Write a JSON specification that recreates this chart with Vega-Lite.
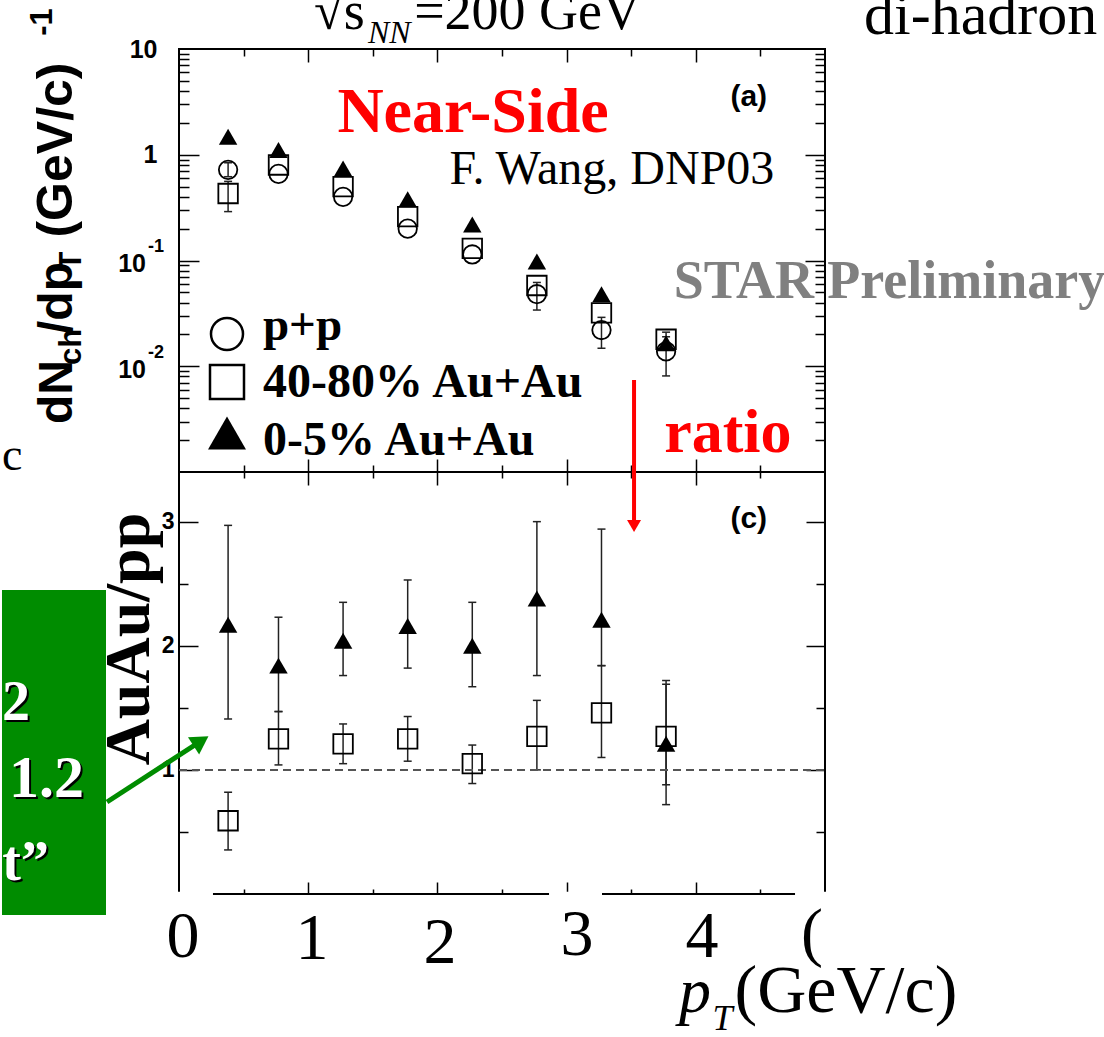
{
  "$schema": "https://vega.github.io/schema/vega-lite/v6.json",
  "background": "white",
  "padding": {"left": 0, "top": -16, "right": 0, "bottom": 0},
  "config": {"view": {"stroke": "black", "strokeWidth": 2}},
  "datasets": {
    "top": [
      {"pt": 0.38, "s": "pp", "v": 0.72, "lo": 0.62, "hi": 0.84},
      {"pt": 0.38, "s": "4080", "v": 0.43, "lo": 0.29, "hi": 0.56},
      {"pt": 0.38, "s": "05", "v": 1.48, "lo": null, "hi": null},
      {"pt": 0.77, "s": "pp", "v": 0.66, "lo": null, "hi": null},
      {"pt": 0.77, "s": "4080", "v": 0.80, "lo": null, "hi": null},
      {"pt": 0.77, "s": "05", "v": 1.11, "lo": null, "hi": null},
      {"pt": 1.27, "s": "pp", "v": 0.40, "lo": null, "hi": null},
      {"pt": 1.27, "s": "4080", "v": 0.50, "lo": null, "hi": null},
      {"pt": 1.27, "s": "05", "v": 0.74, "lo": null, "hi": null},
      {"pt": 1.77, "s": "pp", "v": 0.20, "lo": null, "hi": null},
      {"pt": 1.77, "s": "4080", "v": 0.26, "lo": null, "hi": null},
      {"pt": 1.77, "s": "05", "v": 0.38, "lo": null, "hi": null},
      {"pt": 2.27, "s": "pp", "v": 0.114, "lo": null, "hi": null},
      {"pt": 2.27, "s": "4080", "v": 0.13, "lo": null, "hi": null},
      {"pt": 2.27, "s": "05", "v": 0.219, "lo": null, "hi": null},
      {"pt": 2.77, "s": "pp", "v": 0.048, "lo": 0.034, "hi": 0.062},
      {"pt": 2.77, "s": "4080", "v": 0.058, "lo": null, "hi": null},
      {"pt": 2.77, "s": "05", "v": 0.098, "lo": null, "hi": null},
      {"pt": 3.27, "s": "pp", "v": 0.022, "lo": 0.0148, "hi": 0.029},
      {"pt": 3.27, "s": "4080", "v": 0.032, "lo": null, "hi": null},
      {"pt": 3.27, "s": "05", "v": 0.048, "lo": null, "hi": null},
      {"pt": 3.77, "s": "pp", "v": 0.0138, "lo": 0.0081, "hi": 0.019},
      {"pt": 3.77, "s": "4080", "v": 0.018, "lo": 0.015, "hi": 0.021},
      {"pt": 3.77, "s": "05", "v": 0.0165, "lo": null, "hi": null}
    ],
    "ratio": [
      {"pt": 0.38, "s": "05", "v": 2.17, "lo": 1.41, "hi": 2.97},
      {"pt": 0.77, "s": "05", "v": 1.84, "lo": 1.47, "hi": 2.23},
      {"pt": 1.27, "s": "05", "v": 2.04, "lo": 1.76, "hi": 2.35},
      {"pt": 1.77, "s": "05", "v": 2.16, "lo": 1.82, "hi": 2.53},
      {"pt": 2.27, "s": "05", "v": 2.00, "lo": 1.67, "hi": 2.35},
      {"pt": 2.77, "s": "05", "v": 2.38, "lo": 1.76, "hi": 3.00},
      {"pt": 3.27, "s": "05", "v": 2.21, "lo": 1.84, "hi": 2.94},
      {"pt": 3.77, "s": "05", "v": 1.21, "lo": 0.72, "hi": 1.72},
      {"pt": 0.38, "s": "4080", "v": 0.59, "lo": 0.355, "hi": 0.82},
      {"pt": 0.77, "s": "4080", "v": 1.25, "lo": 1.04, "hi": 1.47},
      {"pt": 1.27, "s": "4080", "v": 1.21, "lo": 1.05, "hi": 1.37},
      {"pt": 1.77, "s": "4080", "v": 1.25, "lo": 1.07, "hi": 1.43},
      {"pt": 2.27, "s": "4080", "v": 1.05, "lo": 0.89, "hi": 1.20},
      {"pt": 2.77, "s": "4080", "v": 1.27, "lo": 1.00, "hi": 1.56},
      {"pt": 3.27, "s": "4080", "v": 1.46, "lo": 1.10, "hi": 1.84},
      {"pt": 3.77, "s": "4080", "v": 1.27, "lo": 0.88, "hi": 1.69}
    ]
  },
  "spacing": 0,
  "bounds": "flush",
  "vconcat": [
    {
      "width": 646,
      "height": 423,
      "resolve": {"axis": {"x": "independent", "y": "independent"}},
      "layer": [
        {
          "data": {"name": "top"},
          "transform": [{"filter": "isValid(datum.lo)"}],
          "mark": {"type": "rule", "color": "#222", "strokeWidth": 1.5},
          "encoding": {
            "x": {"field": "pt", "type": "quantitative", "scale": {"domain": [0, 5], "nice": false, "zero": false},
              "axis": {"orient": "bottom", "values": [0.5,1,1.5,2,2.5,3,3.5,4,4.5], "labels": false, "domain": false, "grid": false, "title": null, "tickColor": "black", "tickWidth": 1.5, "tickSize": {"condition": {"test": "datum.value % 1 === 0", "value": -13}, "value": -7}}},
            "y": {"field": "lo", "type": "quantitative", "scale": {"type": "log", "domain": [0.001, 10], "nice": false},
              "axis": {"orient": "left", "values": [0.002,0.003,0.004,0.005,0.006,0.007,0.008,0.009,0.01,0.02,0.03,0.04,0.05,0.06,0.07,0.08,0.09,0.1,0.2,0.3,0.4,0.5,0.6,0.7,0.8,0.9,1,2,3,4,5,6,7,8,9], "labels": false, "domain": false, "grid": false, "title": null, "tickColor": "black", "tickWidth": 1.5, "tickSize": {"condition": {"test": "abs(log(datum.value)/LN10 - round(log(datum.value)/LN10)) < 0.001", "value": -20}, "value": -10}}},
            "y2": {"field": "hi"}
          }
        },
        {
          "data": {"name": "top"},
          "transform": [{"filter": "isValid(datum.lo)"}],
          "mark": {"type": "tick", "orient": "horizontal", "color": "#222", "opacity": 1, "size": 8, "thickness": 1.5},
          "encoding": {
            "x": {"field": "pt", "type": "quantitative",
              "axis": {"orient": "top", "values": [0.5,1,1.5,2,2.5,3,3.5,4,4.5], "labels": false, "domain": false, "grid": false, "title": null, "tickColor": "black", "tickWidth": 1.5, "tickSize": {"condition": {"test": "datum.value % 1 === 0", "value": -13}, "value": -7}}},
            "y": {"field": "lo", "type": "quantitative",
              "axis": {"orient": "right", "values": [0.002,0.003,0.004,0.005,0.006,0.007,0.008,0.009,0.01,0.02,0.03,0.04,0.05,0.06,0.07,0.08,0.09,0.1,0.2,0.3,0.4,0.5,0.6,0.7,0.8,0.9,1,2,3,4,5,6,7,8,9], "labels": false, "domain": false, "grid": false, "title": null, "tickColor": "black", "tickWidth": 1.5, "tickSize": {"condition": {"test": "abs(log(datum.value)/LN10 - round(log(datum.value)/LN10)) < 0.001", "value": -20}, "value": -10}}}
          }
        },
        {
          "data": {"name": "top"},
          "transform": [{"filter": "isValid(datum.hi)"}],
          "mark": {"type": "tick", "orient": "horizontal", "color": "#222", "opacity": 1, "size": 8, "thickness": 1.5},
          "encoding": {
            "x": {"field": "pt", "type": "quantitative", "axis": null},
            "y": {"field": "hi", "type": "quantitative",
              "axis": {"orient": "left", "values": [1, 10], "ticks": false, "tickSize": 0, "domain": false, "grid": false, "title": null, "labelPadding": 22, "labelFont": "Liberation Sans", "labelFontWeight": "bold", "labelFontSize": 25, "labelColor": "black", "labelFlush": false, "labelOverlap": false, "labelExpr": "datum.value >= 5 ? '10' : '1'"}}
          }
        },
        {
          "data": {"name": "top"},
          "transform": [{"filter": "datum.s === 'pp'"}],
          "mark": {"type": "point", "shape": "circle", "filled": false, "color": "black", "opacity": 1, "strokeWidth": 1.8, "size": 340},
          "encoding": {"x": {"field": "pt", "type": "quantitative", "axis": null}, "y": {"field": "v", "type": "quantitative", "axis": null}}
        },
        {
          "data": {"name": "top"},
          "transform": [{"filter": "datum.s === '4080'"}],
          "mark": {"type": "point", "shape": "square", "filled": false, "color": "black", "opacity": 1, "strokeWidth": 1.8, "size": 380},
          "encoding": {"x": {"field": "pt", "type": "quantitative", "axis": null}, "y": {"field": "v", "type": "quantitative", "axis": null}}
        },
        {
          "data": {"name": "top"},
          "transform": [{"filter": "datum.s === '05'"}],
          "mark": {"type": "point", "shape": "triangle-up", "filled": true, "color": "black", "opacity": 1, "size": 340},
          "encoding": {"x": {"field": "pt", "type": "quantitative", "axis": null}, "y": {"field": "v", "type": "quantitative", "axis": null}}
        },
        {
          "data": {"values": [{}]},
          "mark": {"type": "text", "text": "10", "font": "Liberation Sans", "fontWeight": "bold", "fontSize": 25, "color": "black", "align": "right", "baseline": "middle"},
          "encoding": {"x": {"datum": -0.2554, "type": "quantitative", "axis": null}, "y": {"datum": 0.0927, "type": "quantitative", "axis": null}}
        },
        {
          "data": {"values": [{}]},
          "mark": {"type": "text", "text": "-1", "font": "Liberation Sans", "fontWeight": "bold", "fontSize": 18, "color": "black", "align": "left", "baseline": "middle"},
          "encoding": {"x": {"datum": -0.2399, "type": "quantitative", "axis": null}, "y": {"datum": 0.1342, "type": "quantitative", "axis": null}}
        },
        {
          "data": {"values": [{}]},
          "mark": {"type": "text", "text": "10", "font": "Liberation Sans", "fontWeight": "bold", "fontSize": 25, "color": "black", "align": "right", "baseline": "middle"},
          "encoding": {"x": {"datum": -0.2554, "type": "quantitative", "axis": null}, "y": {"datum": 0.00922, "type": "quantitative", "axis": null}}
        },
        {
          "data": {"values": [{}]},
          "mark": {"type": "text", "text": "-2", "font": "Liberation Sans", "fontWeight": "bold", "fontSize": 18, "color": "black", "align": "left", "baseline": "middle"},
          "encoding": {"x": {"datum": -0.2399, "type": "quantitative", "axis": null}, "y": {"datum": 0.01334, "type": "quantitative", "axis": null}}
        },
        {
          "data": {"values": [{}]},
          "mark": {"type": "text", "text": "(a)", "font": "Liberation Sans", "fontWeight": "bold", "fontSize": 30, "color": "black", "align": "center", "baseline": "middle"},
          "encoding": {"x": {"datum": 4.41, "type": "quantitative", "axis": null}, "y": {"datum": 3.517, "type": "quantitative", "axis": null}}
        },
        {
          "data": {"values": [{}]},
          "mark": {"type": "text", "text": "Near-Side", "font": "Liberation Serif", "fontWeight": "bold", "fontSize": 64, "color": "#ff0000", "align": "center", "baseline": "alphabetic"},
          "encoding": {"x": {"datum": 2.276, "type": "quantitative", "axis": null}, "y": {"datum": 1.641, "type": "quantitative", "axis": null}}
        },
        {
          "data": {"values": [{}]},
          "mark": {"type": "text", "text": "F. Wang, DNP03", "font": "Liberation Serif", "fontSize": 48, "color": "black", "align": "center", "baseline": "alphabetic"},
          "encoding": {"x": {"datum": 3.351, "type": "quantitative", "axis": null}, "y": {"datum": 0.529, "type": "quantitative", "axis": null}}
        },
        {
          "data": {"values": [{}]},
          "mark": {"type": "text", "text": "STAR Preliminary", "font": "Liberation Serif", "fontWeight": "bold", "fontSize": 54, "color": "#808080", "align": "left", "baseline": "alphabetic"},
          "encoding": {"x": {"datum": 3.83, "type": "quantitative", "axis": null}, "y": {"datum": 0.04418, "type": "quantitative", "axis": null}}
        },
        {
          "data": {"values": [{}]},
          "mark": {"type": "point", "shape": "circle", "filled": false, "color": "black", "opacity": 1, "strokeWidth": 2.5, "size": 1024},
          "encoding": {"x": {"datum": 0.3715, "type": "quantitative", "axis": null}, "y": {"datum": 0.02018, "type": "quantitative", "axis": null}}
        },
        {
          "data": {"values": [{}]},
          "mark": {"type": "point", "shape": "square", "filled": false, "color": "black", "opacity": 1, "strokeWidth": 2.5, "size": 1156},
          "encoding": {"x": {"datum": 0.3715, "type": "quantitative", "axis": null}, "y": {"datum": 0.007096, "type": "quantitative", "axis": null}}
        },
        {
          "data": {"values": [{}]},
          "mark": {"type": "point", "shape": "triangle-up", "filled": true, "color": "black", "opacity": 1, "size": 1444},
          "encoding": {"x": {"datum": 0.3715, "type": "quantitative", "axis": null}, "y": {"datum": 0.002338, "type": "quantitative", "axis": null}}
        },
        {
          "data": {"values": [{}]},
          "mark": {"type": "text", "text": "p+p", "font": "Liberation Serif", "fontWeight": "bold", "fontSize": 47, "color": "black", "align": "left", "baseline": "alphabetic"},
          "encoding": {"x": {"datum": 0.65, "type": "quantitative", "axis": null}, "y": {"datum": 0.01771, "type": "quantitative", "axis": null}}
        },
        {
          "data": {"values": [{}]},
          "mark": {"type": "text", "text": "40-80% Au+Au", "font": "Liberation Serif", "fontWeight": "bold", "fontSize": 48, "color": "black", "align": "left", "baseline": "alphabetic"},
          "encoding": {"x": {"datum": 0.65, "type": "quantitative", "axis": null}, "y": {"datum": 0.00512, "type": "quantitative", "axis": null}}
        },
        {
          "data": {"values": [{}]},
          "mark": {"type": "text", "text": "0-5% Au+Au", "font": "Liberation Serif", "fontWeight": "bold", "fontSize": 48, "color": "black", "align": "left", "baseline": "alphabetic"},
          "encoding": {"x": {"datum": 0.65, "type": "quantitative", "axis": null}, "y": {"datum": 0.001448, "type": "quantitative", "axis": null}}
        },
        {
          "data": {"values": [{}]},
          "mark": {"type": "text", "text": "ratio", "font": "Liberation Serif", "fontWeight": "bold", "fontSize": 62, "color": "#ff0000", "align": "left", "baseline": "alphabetic"},
          "encoding": {"x": {"datum": 3.755, "type": "quantitative", "axis": null}, "y": {"datum": 0.001546, "type": "quantitative", "axis": null}}
        },
        {
          "data": {"values": [{}]},
          "mark": {"type": "text", "text": "c", "font": "Liberation Serif", "fontSize": 46, "color": "black", "align": "left", "baseline": "alphabetic"},
          "encoding": {"x": {"datum": -1.37, "type": "quantitative", "axis": null}, "y": {"datum": 0.001045, "type": "quantitative", "axis": null}}
        },
        {
          "data": {"values": [{}]},
          "mark": {"type": "text", "text": "√s", "font": "Liberation Serif", "fontSize": 54, "color": "black", "align": "left", "baseline": "alphabetic"},
          "encoding": {"x": {"datum": 1.045, "type": "quantitative", "axis": null}, "y": {"datum": 15.46, "type": "quantitative", "axis": null}}
        },
        {
          "data": {"values": [{}]},
          "mark": {"type": "text", "text": "NN", "font": "Liberation Serif", "fontStyle": "italic", "fontSize": 32, "color": "black", "align": "left", "baseline": "alphabetic"},
          "encoding": {"x": {"datum": 1.463, "type": "quantitative", "axis": null}, "y": {"datum": 11.4, "type": "quantitative", "axis": null}}
        },
        {
          "data": {"values": [{}]},
          "mark": {"type": "text", "text": "=200 GeV", "font": "Liberation Serif", "fontSize": 54, "color": "black", "align": "left", "baseline": "alphabetic"},
          "encoding": {"x": {"datum": 1.82, "type": "quantitative", "axis": null}, "y": {"datum": 15.46, "type": "quantitative", "axis": null}}
        },
        {
          "data": {"values": [{}]},
          "mark": {"type": "text", "text": "di-hadron", "font": "Liberation Serif", "fontSize": 60, "color": "black", "align": "left", "baseline": "alphabetic"},
          "encoding": {"x": {"datum": 5.302, "type": "quantitative", "axis": null}, "y": {"datum": 13.86, "type": "quantitative", "axis": null}}
        },
        {
          "data": {"values": [{}]},
          "mark": {"type": "text", "text": "dN", "font": "Liberation Sans", "fontWeight": "bold", "fontSize": 48, "color": "black", "align": "center", "baseline": "alphabetic", "angle": 270},
          "encoding": {"x": {"datum": -0.828, "type": "quantitative", "axis": null}, "y": {"datum": 0.005708, "type": "quantitative", "axis": null}}
        },
        {
          "data": {"values": [{}]},
          "mark": {"type": "text", "text": "ch", "font": "Liberation Sans", "fontWeight": "bold", "fontSize": 31, "color": "black", "align": "center", "baseline": "alphabetic", "angle": 270},
          "encoding": {"x": {"datum": -0.762, "type": "quantitative", "axis": null}, "y": {"datum": 0.01521, "type": "quantitative", "axis": null}}
        },
        {
          "data": {"values": [{}]},
          "mark": {"type": "text", "text": "/dp", "font": "Liberation Sans", "fontWeight": "bold", "fontSize": 48, "color": "black", "align": "center", "baseline": "alphabetic", "angle": 270},
          "encoding": {"x": {"datum": -0.828, "type": "quantitative", "axis": null}, "y": {"datum": 0.04418, "type": "quantitative", "axis": null}}
        },
        {
          "data": {"values": [{}]},
          "mark": {"type": "text", "text": "T", "font": "Liberation Sans", "fontWeight": "bold", "fontSize": 31, "color": "black", "align": "center", "baseline": "alphabetic", "angle": 270},
          "encoding": {"x": {"datum": -0.762, "type": "quantitative", "axis": null}, "y": {"datum": 0.0989, "type": "quantitative", "axis": null}}
        },
        {
          "data": {"values": [{}]},
          "mark": {"type": "text", "text": "(GeV/c)", "font": "Liberation Sans", "fontWeight": "bold", "fontSize": 50, "color": "black", "align": "center", "baseline": "alphabetic", "angle": 270},
          "encoding": {"x": {"datum": -0.828, "type": "quantitative", "axis": null}, "y": {"datum": 1.109, "type": "quantitative", "axis": null}}
        },
        {
          "data": {"values": [{}]},
          "mark": {"type": "text", "text": "-1", "font": "Liberation Sans", "fontWeight": "bold", "fontSize": 31, "color": "black", "align": "center", "baseline": "alphabetic", "angle": 270},
          "encoding": {"x": {"datum": -0.983, "type": "quantitative", "axis": null}, "y": {"datum": 18.0, "type": "quantitative", "axis": null}}
        }
      ]
    },
    {
      "width": 646,
      "height": 422,
      "resolve": {"axis": {"x": "independent", "y": "independent"}},
      "layer": [
        {
          "data": {"name": "ratio"},
          "mark": {"type": "rule", "color": "#222", "strokeWidth": 1.5},
          "encoding": {
            "x": {"field": "pt", "type": "quantitative", "scale": {"domain": [0, 5], "nice": false, "zero": false},
              "axis": {"orient": "bottom", "values": [0.5,1,1.5,2,2.5,3,3.5,4,4.5], "labels": false, "domain": false, "grid": false, "title": null, "tickColor": "black", "tickWidth": 1.5, "tickSize": {"condition": {"test": "datum.value % 1 === 0", "value": -12}, "value": -5}}},
            "y": {"field": "lo", "type": "quantitative", "scale": {"domain": [0, 3.4], "nice": false, "zero": false},
              "axis": {"orient": "left", "values": [0.5,1,1.5,2,2.5,3], "labels": false, "domain": false, "grid": false, "title": null, "tickColor": "black", "tickWidth": 1.5, "tickSize": {"condition": {"test": "datum.value % 1 === 0", "value": -19}, "value": -9}}},
            "y2": {"field": "hi"}
          }
        },
        {
          "data": {"name": "ratio"},
          "mark": {"type": "tick", "orient": "horizontal", "color": "#222", "opacity": 1, "size": 8, "thickness": 1.5},
          "encoding": {
            "x": {"field": "pt", "type": "quantitative",
              "axis": {"orient": "top", "values": [0.5,1,1.5,2,2.5,3,3.5,4,4.5], "labels": false, "domain": false, "grid": false, "title": null, "tickColor": "black", "tickWidth": 1.5, "tickSize": {"condition": {"test": "datum.value % 1 === 0", "value": -13}, "value": -6}}},
            "y": {"field": "lo", "type": "quantitative",
              "axis": {"orient": "right", "values": [0.5,1,1.5,2,2.5,3], "labels": false, "domain": false, "grid": false, "title": null, "tickColor": "black", "tickWidth": 1.5, "tickSize": {"condition": {"test": "datum.value % 1 === 0", "value": -19}, "value": -9}}}
          }
        },
        {
          "data": {"name": "ratio"},
          "mark": {"type": "tick", "orient": "horizontal", "color": "#222", "opacity": 1, "size": 8, "thickness": 1.5},
          "encoding": {
            "x": {"field": "pt", "type": "quantitative", "axis": null},
            "y": {"field": "hi", "type": "quantitative",
              "axis": {"orient": "left", "values": [1, 2, 3], "ticks": false, "tickSize": 0, "domain": false, "grid": false, "title": null, "labelPadding": 5, "labelFont": "Liberation Sans", "labelFontWeight": "bold", "labelFontSize": 23, "labelColor": "black", "labelFlush": false, "labelOverlap": false}}
          }
        },
        {
          "data": {"values": [{}]},
          "mark": {"type": "rule", "color": "#555", "strokeWidth": 2, "strokeDash": [8, 5]},
          "encoding": {"x": {"datum": 0, "type": "quantitative", "axis": null}, "x2": {"datum": 5}, "y": {"datum": 1, "type": "quantitative", "axis": null}}
        },
        {
          "data": {"name": "ratio"},
          "transform": [{"filter": "datum.s === '4080'"}],
          "mark": {"type": "point", "shape": "square", "filled": false, "color": "black", "opacity": 1, "strokeWidth": 1.8, "size": 380},
          "encoding": {"x": {"field": "pt", "type": "quantitative", "axis": null}, "y": {"field": "v", "type": "quantitative", "axis": null}}
        },
        {
          "data": {"name": "ratio"},
          "transform": [{"filter": "datum.s === '05'"}],
          "mark": {"type": "point", "shape": "triangle-up", "filled": true, "color": "black", "opacity": 1, "size": 340},
          "encoding": {"x": {"field": "pt", "type": "quantitative", "axis": null}, "y": {"field": "v", "type": "quantitative", "axis": null}}
        },
        {
          "data": {"values": [{}]},
          "mark": {"type": "text", "text": "(c)", "font": "Liberation Sans", "fontWeight": "bold", "fontSize": 30, "color": "black", "align": "center", "baseline": "middle"},
          "encoding": {"x": {"datum": 4.41, "type": "quantitative", "axis": null}, "y": {"datum": 3.021, "type": "quantitative", "axis": null}}
        },
        {
          "data": {"values": [{}]},
          "mark": {"type": "text", "text": "AuAu/pp", "font": "Liberation Serif", "fontWeight": "bold", "fontSize": 64, "color": "black", "align": "center", "baseline": "alphabetic", "angle": 270},
          "encoding": {"x": {"datum": -0.232, "type": "quantitative", "axis": null}, "y": {"datum": 2.054, "type": "quantitative", "axis": null}}
        },
        {
          "data": {"values": [{}]},
          "mark": {"type": "rect", "color": "#008c00", "opacity": 1},
          "encoding": {"x": {"datum": -1.37, "type": "quantitative", "axis": null}, "x2": {"datum": -0.565}, "y": {"datum": 2.449, "type": "quantitative", "axis": null}, "y2": {"datum": -0.1692}}
        },
        {
          "data": {"values": [{}]},
          "mark": {"type": "rect", "color": "white", "opacity": 1},
          "encoding": {"x": {"datum": -0.1, "type": "quantitative", "axis": null}, "x2": {"datum": 0.263}, "y": {"datum": 0.018, "type": "quantitative", "axis": null}, "y2": {"datum": -0.6}}
        },
        {
          "data": {"values": [{}]},
          "mark": {"type": "rect", "color": "white", "opacity": 1},
          "encoding": {"x": {"datum": 2.864, "type": "quantitative", "axis": null}, "x2": {"datum": 3.274}, "y": {"datum": 0.018, "type": "quantitative", "axis": null}, "y2": {"datum": -0.6}}
        },
        {
          "data": {"values": [{}]},
          "mark": {"type": "rect", "color": "white", "opacity": 1},
          "encoding": {"x": {"datum": 4.768, "type": "quantitative", "axis": null}, "x2": {"datum": 5.03}, "y": {"datum": 0.018, "type": "quantitative", "axis": null}, "y2": {"datum": -0.6}}
        },
        {
          "data": {"values": [{}]},
          "mark": {"type": "text", "text": "2", "font": "Liberation Serif", "fontWeight": "bold", "fontSize": 56, "color": "black", "align": "right", "baseline": "alphabetic", "dx": 2, "dy": 2},
          "encoding": {"x": {"datum": -1.153, "type": "quantitative", "axis": null}, "y": {"datum": 1.402, "type": "quantitative", "axis": null}}
        },
        {
          "data": {"values": [{}]},
          "mark": {"type": "text", "text": "2", "font": "Liberation Serif", "fontWeight": "bold", "fontSize": 56, "color": "white", "align": "right", "baseline": "alphabetic"},
          "encoding": {"x": {"datum": -1.153, "type": "quantitative", "axis": null}, "y": {"datum": 1.402, "type": "quantitative", "axis": null}}
        },
        {
          "data": {"values": [{}]},
          "mark": {"type": "text", "text": "1.2", "font": "Liberation Serif", "fontWeight": "bold", "fontSize": 60, "color": "black", "align": "right", "baseline": "alphabetic", "dx": 2, "dy": 2},
          "encoding": {"x": {"datum": -0.7353, "type": "quantitative", "axis": null}, "y": {"datum": 0.7815, "type": "quantitative", "axis": null}}
        },
        {
          "data": {"values": [{}]},
          "mark": {"type": "text", "text": "1.2", "font": "Liberation Serif", "fontWeight": "bold", "fontSize": 60, "color": "white", "align": "right", "baseline": "alphabetic"},
          "encoding": {"x": {"datum": -0.7353, "type": "quantitative", "axis": null}, "y": {"datum": 0.7815, "type": "quantitative", "axis": null}}
        },
        {
          "data": {"values": [{}]},
          "mark": {"type": "text", "text": "t”", "font": "Liberation Serif", "fontWeight": "bold", "fontSize": 56, "color": "black", "align": "right", "baseline": "alphabetic", "dx": 2, "dy": 2},
          "encoding": {"x": {"datum": -1.006, "type": "quantitative", "axis": null}, "y": {"datum": 0.1128, "type": "quantitative", "axis": null}}
        },
        {
          "data": {"values": [{}]},
          "mark": {"type": "text", "text": "t”", "font": "Liberation Serif", "fontWeight": "bold", "fontSize": 56, "color": "white", "align": "right", "baseline": "alphabetic"},
          "encoding": {"x": {"datum": -1.006, "type": "quantitative", "axis": null}, "y": {"datum": 0.1128, "type": "quantitative", "axis": null}}
        },
        {
          "data": {"values": [{}]},
          "mark": {"type": "rule", "color": "#008c00", "strokeWidth": 5},
          "encoding": {"x": {"datum": -0.5573, "type": "quantitative", "axis": null}, "y": {"datum": 0.7412, "type": "quantitative", "axis": null}, "x2": {"datum": 0.1703}, "y2": {"datum": 1.2327}}
        },
        {
          "data": {"values": [{}]},
          "mark": {"type": "point", "shape": "triangle-up", "filled": true, "color": "#008c00", "opacity": 1, "size": 420, "angle": 57},
          "encoding": {"x": {"datum": 0.1703, "type": "quantitative", "axis": null}, "y": {"datum": 1.2327, "type": "quantitative", "axis": null}}
        },
        {
          "data": {"values": [{}]},
          "mark": {"type": "rule", "color": "#ff0000", "strokeWidth": 4},
          "encoding": {"x": {"datum": 3.522, "type": "quantitative", "axis": null}, "y": {"datum": 4.141, "type": "quantitative", "axis": null}, "y2": {"datum": 3.0}}
        },
        {
          "data": {"values": [{}]},
          "mark": {"type": "point", "shape": "triangle-down", "filled": true, "color": "#ff0000", "opacity": 1, "size": 196},
          "encoding": {"x": {"datum": 3.522, "type": "quantitative", "axis": null}, "y": {"datum": 2.965, "type": "quantitative", "axis": null}}
        },
        {
          "data": {"values": [{}]},
          "mark": {"type": "text", "text": "0", "font": "Liberation Serif", "fontSize": 66, "color": "black", "align": "center", "baseline": "alphabetic"},
          "encoding": {"x": {"datum": 0.031, "type": "quantitative", "axis": null}, "y": {"datum": -0.5076, "type": "quantitative", "axis": null}}
        },
        {
          "data": {"values": [{}]},
          "mark": {"type": "text", "text": "1", "font": "Liberation Serif", "fontSize": 66, "color": "black", "align": "center", "baseline": "alphabetic"},
          "encoding": {"x": {"datum": 1.029, "type": "quantitative", "axis": null}, "y": {"datum": -0.5237, "type": "quantitative", "axis": null}}
        },
        {
          "data": {"values": [{}]},
          "mark": {"type": "text", "text": "2", "font": "Liberation Serif", "fontSize": 66, "color": "black", "align": "center", "baseline": "alphabetic"},
          "encoding": {"x": {"datum": 2.02, "type": "quantitative", "axis": null}, "y": {"datum": -0.5559, "type": "quantitative", "axis": null}}
        },
        {
          "data": {"values": [{}]},
          "mark": {"type": "text", "text": "3", "font": "Liberation Serif", "fontSize": 66, "color": "black", "align": "center", "baseline": "alphabetic"},
          "encoding": {"x": {"datum": 3.08, "type": "quantitative", "axis": null}, "y": {"datum": -0.4915, "type": "quantitative", "axis": null}}
        },
        {
          "data": {"values": [{}]},
          "mark": {"type": "text", "text": "4", "font": "Liberation Serif", "fontSize": 66, "color": "black", "align": "center", "baseline": "alphabetic"},
          "encoding": {"x": {"datum": 4.048, "type": "quantitative", "axis": null}, "y": {"datum": -0.5076, "type": "quantitative", "axis": null}}
        },
        {
          "data": {"values": [{}]},
          "mark": {"type": "text", "text": "(", "font": "Liberation Serif", "fontSize": 66, "color": "black", "align": "center", "baseline": "alphabetic"},
          "encoding": {"x": {"datum": 4.9, "type": "quantitative", "axis": null}, "y": {"datum": -0.4834, "type": "quantitative", "axis": null}}
        },
        {
          "data": {"values": [{}]},
          "mark": {"type": "text", "text": "p", "font": "Liberation Serif", "fontStyle": "italic", "fontSize": 64, "color": "black", "align": "left", "baseline": "alphabetic"},
          "encoding": {"x": {"datum": 3.87, "type": "quantitative", "axis": null}, "y": {"datum": -0.9507, "type": "quantitative", "axis": null}}
        },
        {
          "data": {"values": [{}]},
          "mark": {"type": "text", "text": "T", "font": "Liberation Serif", "fontStyle": "italic", "fontSize": 36, "color": "black", "align": "left", "baseline": "alphabetic"},
          "encoding": {"x": {"datum": 4.13, "type": "quantitative", "axis": null}, "y": {"datum": -1.0957, "type": "quantitative", "axis": null}}
        },
        {
          "data": {"values": [{}]},
          "mark": {"type": "text", "text": "(GeV/c)", "font": "Liberation Serif", "fontSize": 68, "color": "black", "align": "left", "baseline": "alphabetic"},
          "encoding": {"x": {"datum": 4.3, "type": "quantitative", "axis": null}, "y": {"datum": -0.9507, "type": "quantitative", "axis": null}}
        }
      ]
    }
  ]
}
